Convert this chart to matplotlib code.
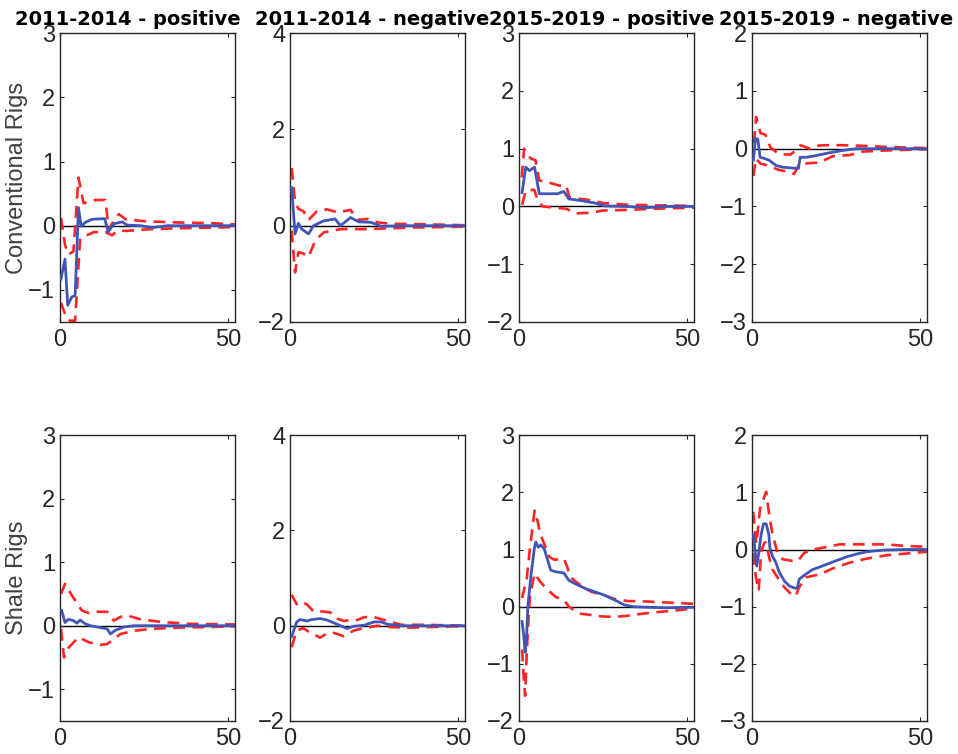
import matplotlib
matplotlib.use('Agg')
import matplotlib.pyplot as plt

plt.rcParams['font.family'] = ['Liberation Sans', 'DejaVu Sans']

# impulse responses: (horizon, value) pairs for median and 68% bands
# conventional rigs
conv_1114p_med = [(0.3, -0.83), (1.5, -0.52), (2.3, -1.24), (3.5, -1.11), (4.5, -1.09), (5.5, 0.28),
                  (6.3, -0.01), (7.5, 0.05), (9.5, 0.10), (13.3, 0.11), (14.3, -0.10), (16, 0.03),
                  (18.5, 0.06), (20, 0.01), (24, 0.0), (27.5, -0.03), (32, 0.0), (52, 0.0)]
conv_1114p_up = [(0.3, 0.12), (1.5, -0.3), (2.5, -0.45), (4.0, -0.4), (5.5, 0.75), (7.0, 0.35),
                 (10.5, 0.4), (13.5, 0.4), (14.5, -0.06), (16, 0.08), (17.5, 0.18), (19.5, 0.1),
                 (25, 0.07), (35, 0.05), (45, 0.04), (52, 0.02)]
conv_1114p_lo = [(0.3, -1.2), (2.0, -1.45), (3.0, -1.48), (4.5, -1.48), (6.0, -0.2), (8.0, -0.15),
                 (10, -0.1), (13.5, -0.1), (15.5, -0.15), (17, -0.08), (20, -0.08), (25, -0.06),
                 (35, -0.04), (45, -0.03), (52, -0.02)]

conv_1114n_med = [(0.5, 0.79), (1.5, -0.17), (2.5, 0.05), (3.5, -0.07), (5.5, -0.17), (7, 0.0),
                  (10, 0.1), (13.4, 0.14), (15, 0.0), (18, 0.17), (20.4, 0.08), (24, 0.07),
                  (27, -0.01), (35, 0.0), (52, 0.0)]
conv_1114n_up = [(0.5, 1.2), (1.5, 0.5), (2.5, 0.35), (4, 0.3), (5.5, 0.12), (8, 0.3), (11, 0.34),
                 (14, 0.28), (16, 0.3), (18, 0.33), (20, 0.12), (23, 0.14), (26, 0.07), (30, 0.04),
                 (40, 0.03), (52, 0.01)]
conv_1114n_lo = [(0.5, -0.1), (1.5, -0.97), (2.5, -0.55), (4, -0.58), (5.5, -0.65), (7.5, -0.31),
                 (10, -0.14), (13, -0.1), (15, -0.07), (18, -0.07), (22, -0.07), (27, -0.06),
                 (35, -0.04), (45, -0.03), (52, -0.02)]

conv_1519p_med = [(0.9, 0.24), (2, 0.68), (3.1, 0.62), (4.6, 0.68), (6, 0.22), (8, 0.22),
                  (11.4, 0.22), (13.3, 0.26), (14.8, 0.13), (18.6, 0.1), (22.5, 0.06), (25.4, 0.01),
                  (31.5, 0.0), (38, -0.02), (44, 0.0), (52, 0.0)]
conv_1519p_up = [(0.8, 0.5), (1.5, 1.0), (2.5, 0.9), (3.5, 0.83), (4.9, 0.8), (6, 0.45),
                 (8.5, 0.42), (12, 0.36), (14, 0.36), (15, 0.15), (20, 0.12), (25, 0.06),
                 (32, 0.03), (40, 0.02), (52, 0.01)]
conv_1519p_lo = [(0.9, 0.03), (2, 0.27), (4.5, 0.29), (5.5, 0.12), (7, 0.0), (12, -0.03),
                 (14, -0.04), (17, -0.12), (21, -0.11), (25, -0.07), (32, -0.06), (40, -0.04),
                 (52, -0.02)]

conv_1519n_med = [(0.4, -0.2), (1, 0.17), (1.7, 0.17), (2.4, -0.15), (3.7, -0.17), (5.1, -0.2),
                  (7.1, -0.29), (9.1, -0.32), (13.1, -0.34), (13.8, -0.34), (14.3, -0.15), (16, -0.15),
                  (19, -0.12), (23, -0.07), (27, -0.03), (31, 0.0), (52, 0.0)]
conv_1519n_up = [(0.6, 0.1), (1.2, 0.55), (2.5, 0.27), (4, 0.24), (5.5, 0.02), (7, -0.05),
                 (8.5, -0.1), (11.5, -0.1), (13.5, 0.0), (14.5, 0.06), (17, 0.0), (19, 0.05),
                 (22, 0.06), (27, 0.06), (33, 0.05), (40, 0.03), (52, 0.01)]
conv_1519n_lo = [(0.4, -0.47), (1.2, -0.17), (2.5, -0.26), (4, -0.28), (6, -0.32), (8, -0.37),
                 (11, -0.4), (12.5, -0.44), (14, -0.27), (17, -0.25), (20, -0.24), (24, -0.13),
                 (29, -0.11), (33, -0.05), (40, -0.03), (52, -0.01)]

# shale rigs
shale_1114p_med = [(0.5, 0.24), (1.5, 0.05), (2.5, 0.1), (4, 0.08), (5, 0.04), (6, 0.09), (7.5, 0.03),
                   (9, 0.0), (12, -0.03), (14, -0.05), (15, -0.13), (16.5, -0.07), (19, -0.02),
                   (22, 0.0), (52, 0.0)]
shale_1114p_up = [(0.3, 0.5), (1.5, 0.66), (3.5, 0.48), (6.5, 0.24), (8.5, 0.2), (11, 0.22),
                  (14, 0.22), (16, 0.08), (18, 0.14), (20, 0.16), (24, 0.1), (30, 0.06), (38, 0.03),
                  (52, 0.02)]
shale_1114p_lo = [(0.3, -0.05), (1.2, -0.5), (2.5, -0.35), (5.5, -0.18), (8.5, -0.26), (12, -0.3),
                  (14, -0.29), (16, -0.21), (18, -0.13), (22, -0.08), (27, -0.05), (35, -0.03),
                  (52, -0.01)]

shale_1114n_med = [(0.5, -0.23), (2, 0.08), (3, 0.13), (5, 0.1), (6.5, 0.13), (9, 0.15), (11, 0.12),
                   (14, 0.03), (17, -0.06), (19, -0.01), (22, 0.01), (25, 0.08), (27, 0.08),
                   (29, 0.03), (33, 0.0), (52, 0.0)]
shale_1114n_up = [(0.5, 0.65), (2, 0.45), (3, 0.5), (5, 0.45), (7, 0.3), (9.5, 0.3), (12, 0.28),
                  (14, 0.15), (16, 0.1), (18, 0.12), (20, 0.12), (22, 0.18), (25, 0.18), (29, 0.1),
                  (33, 0.02), (40, 0.02), (52, 0.0)]
shale_1114n_lo = [(0.5, -0.45), (2, -0.1), (4, -0.05), (6, -0.15), (9, -0.25), (11, -0.16),
                  (13, -0.15), (16, -0.22), (19, -0.1), (22, -0.05), (26, 0.0), (30, -0.03),
                  (36, -0.04), (45, -0.02), (52, -0.01)]

shale_1519p_med = [(0.9, -0.26), (1.4, -0.5), (1.8, -0.8), (2.2, -0.6), (2.6, 0.0), (3.6, 0.58),
                   (4.6, 1.04), (5, 1.13), (5.7, 1.04), (6.5, 1.08), (7.5, 1.01), (9.4, 0.64),
                   (10.9, 0.61), (13.3, 0.59), (14.8, 0.46), (16.7, 0.4), (19.6, 0.32), (22.5, 0.26),
                   (25.4, 0.2), (28.3, 0.12), (31.3, 0.03), (34, 0.0), (38, -0.01), (44, -0.02),
                   (52, -0.01)]
shale_1519p_up = [(0.9, 0.15), (1.5, 0.3), (2.3, 0.5), (3.2, 1.0), (4.6, 1.68), (5.5, 1.5),
                  (6.3, 1.27), (7.5, 1.1), (9, 0.87), (10.5, 0.82), (13.3, 0.84), (14.3, 0.7),
                  (15.2, 0.52), (17, 0.43), (19.6, 0.32), (21.5, 0.26), (25.4, 0.2), (28, 0.14),
                  (32, 0.1), (38, 0.09), (45, 0.07), (52, 0.05)]
shale_1519p_lo = [(0.9, -0.75), (1.4, -1.27), (1.8, -1.56), (2.3, -0.8), (2.9, -0.12), (3.3, 0.2),
                  (4.6, 0.58), (6, 0.46), (8, 0.32), (10.9, 0.17), (13.3, 0.12), (14.8, 0.0),
                  (17.7, -0.12), (20.6, -0.14), (24.5, -0.17), (28.3, -0.18), (32, -0.16),
                  (37, -0.12), (42, -0.09), (46, -0.07), (52, -0.03)]

shale_1519n_med = [(0.4, 0.26), (1.4, -0.29), (2.0, -0.06), (2.7, 0.26), (3.4, 0.45), (4.2, 0.45),
                   (5.0, 0.26), (5.3, 0.03), (6.1, -0.12), (7.1, -0.23), (8.1, -0.4), (9.6, -0.55),
                   (11.1, -0.64), (13.0, -0.68), (13.5, -0.66), (14.0, -0.52), (16, -0.43),
                   (18, -0.35), (19.5, -0.32), (23, -0.24), (28, -0.13), (31, -0.08), (34, -0.04),
                   (39, -0.01), (45, 0.0), (52, 0.0)]
shale_1519n_up = [(0.3, 0.66), (1.3, 0.1), (2.4, 0.72), (4.2, 1.01), (5.1, 0.61), (6.1, 0.26),
                  (7.6, -0.06), (9.1, -0.17), (12, -0.2), (13.6, -0.2), (15.5, -0.06), (18, 0.0),
                  (21, 0.03), (26, 0.09), (29, 0.09), (34, 0.09), (40, 0.09), (46, 0.06), (52, 0.05)]
shale_1519n_lo = [(0.3, -0.06), (1.2, -0.5), (2.0, -0.72), (2.7, -0.03), (3.7, 0.12), (4.2, 0.12),
                  (5.1, -0.14), (6.1, -0.35), (7.6, -0.49), (9.6, -0.66), (12.1, -0.81), (13, -0.81),
                  (14, -0.66), (16, -0.49), (18, -0.46), (20, -0.44), (24, -0.33), (29, -0.23),
                  (34, -0.16), (40, -0.1), (46, -0.07), (52, -0.04)]

titles = ['2011-2014 - positive', '2011-2014 - negative', '2015-2019 - positive', '2015-2019 - negative']
row_labels = ['Conventional Rigs', 'Shale Rigs']
ylims = [(-1.5, 3), (-2, 4), (-2, 3), (-3, 2)]
yticks = [[-1, 0, 1, 2, 3], [-2, 0, 2, 4], [-2, -1, 0, 1, 2, 3], [-3, -2, -1, 0, 1, 2]]

panels = [
    [(conv_1114p_med, conv_1114p_up, conv_1114p_lo),
     (conv_1114n_med, conv_1114n_up, conv_1114n_lo),
     (conv_1519p_med, conv_1519p_up, conv_1519p_lo),
     (conv_1519n_med, conv_1519n_up, conv_1519n_lo)],
    [(shale_1114p_med, shale_1114p_up, shale_1114p_lo),
     (shale_1114n_med, shale_1114n_up, shale_1114n_lo),
     (shale_1519p_med, shale_1519p_up, shale_1519p_lo),
     (shale_1519n_med, shale_1519n_up, shale_1519n_lo)],
]

fig = plt.figure(figsize=(9.58, 7.54), dpi=100)

lefts = [0.0626, 0.3027, 0.5418, 0.785]
bottoms = [0.573, 0.0438]
heights = [0.383, 0.379]
width = 0.1827
title_x = [0.39, 0.47, 0.475, 0.48]
axcol = '#262626'

for r in range(2):
    for c in range(4):
        ax = fig.add_axes([lefts[c], bottoms[r], width, heights[r]])
        med, up, lo = panels[r][c]
        ax.axhline(0, color='black', lw=1.0, zorder=1)
        for band in (up, lo):
            h, v = zip(*band)
            ax.plot(h, v, color='#ff2424', lw=1.9, ls=(0, (4.5, 2.8)), zorder=2)
        h, v = zip(*med)
        ax.plot(h, v, color='#3f55b8', lw=2.0, zorder=3)

        ax.set_xlim(0, 52)
        ax.set_ylim(*ylims[c])
        ax.set_xticks([0, 50])
        ax.set_yticks(yticks[c])
        ax.tick_params(direction='in', top=True, right=True, length=3, width=0.8,
                       colors=axcol, labelsize=17)
        ax.tick_params(axis='x', pad=5)
        for s in ax.spines.values():
            s.set_color(axcol)
            s.set_linewidth(1.0)

        if r == 0:
            ax.set_title(titles[c], x=title_x[c], fontsize=14, fontweight='bold',
                         family='DejaVu Sans', pad=6)
        if c == 0:
            ax.set_ylabel(row_labels[r], fontsize=17, color='#404040')
            ax.yaxis.set_label_coords(-0.185, 0.5)

fig.savefig('out.png', dpi=100)
